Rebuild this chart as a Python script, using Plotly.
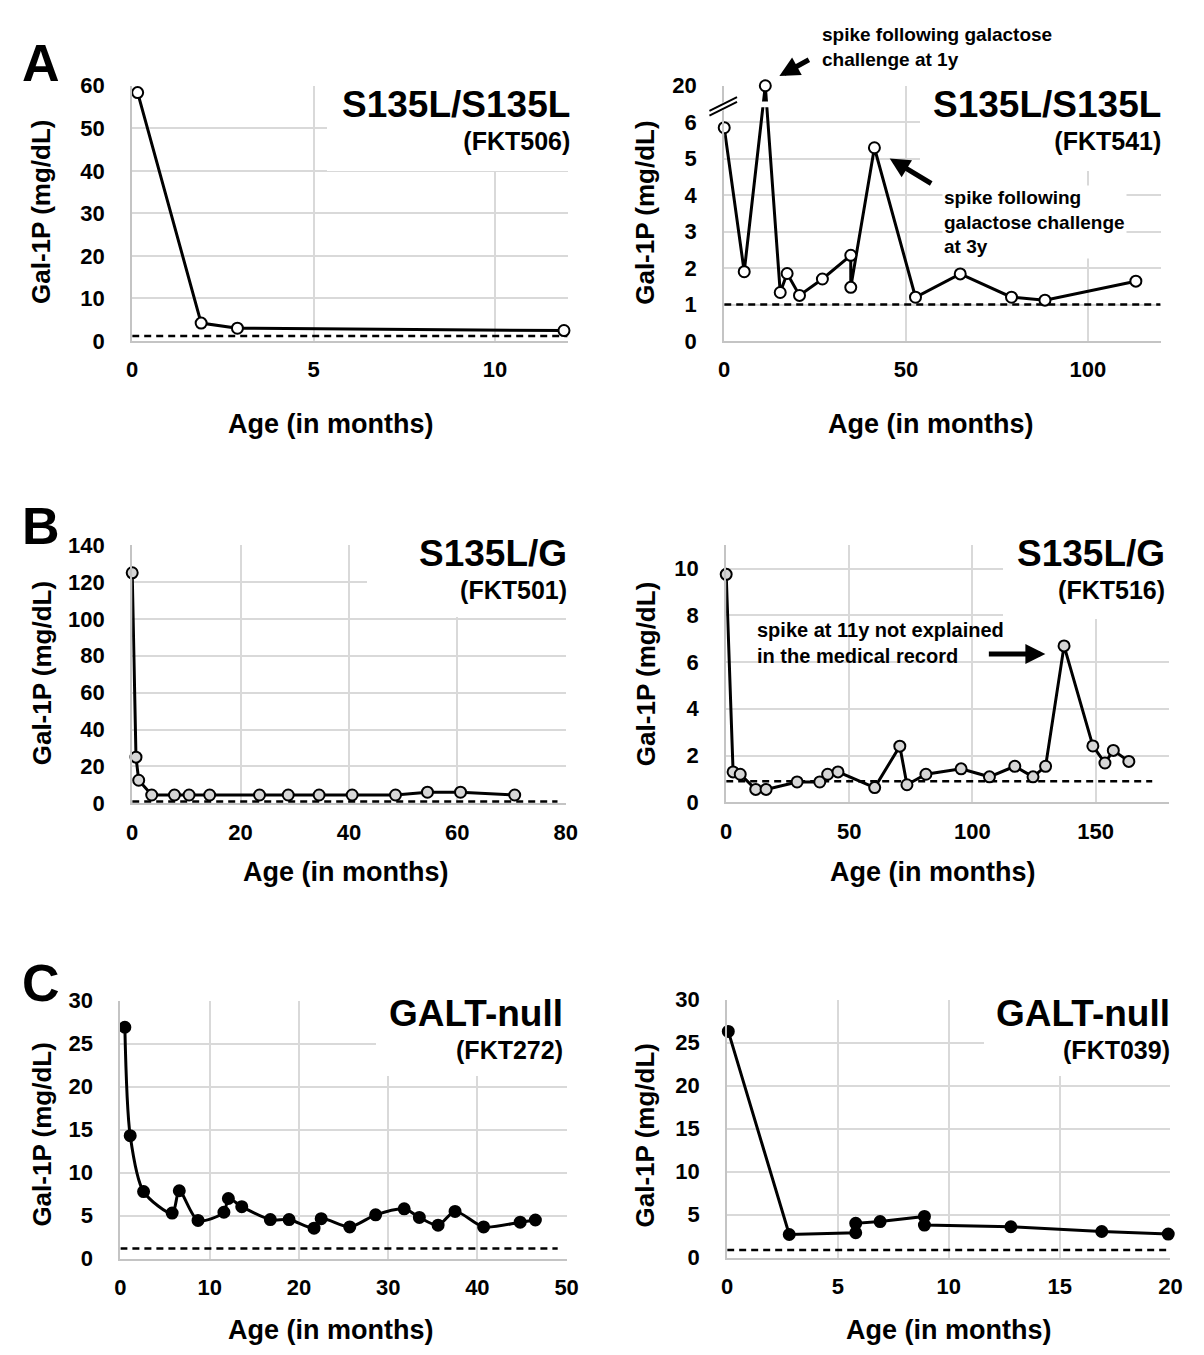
import plotly.graph_objects as go

W, H = 1204, 1355
FONT = "Liberation Sans, Arial, sans-serif"

# ---------------- data ----------------
# Panel A left: S135L/S135L (FKT506)
a1_age = [0.15, 1.9, 2.9, 11.9]
a1_gal = [58.4, 4.2, 3.0, 2.45]
a1_ref = [1.15, 1.15]
a1_ref_x = [0, 12]

# Panel A right: S135L/S135L (FKT541)  (20 shown on a broken axis)
a2_age = [0, 5.5, 11.3, 15.4, 17.3, 20.7, 27.0, 34.8, 34.8, 41.3, 52.6, 64.9, 79.0, 88.2, 113.2]
a2_gal = [5.85, 1.9, 20, 1.33, 1.85, 1.25, 1.7, 2.35, 1.47, 5.3, 1.2, 1.84, 1.2, 1.12, 1.64]
a2_ref = [1.0, 1.0]
a2_ref_x = [0, 120]
a2_yticks = [0, 1, 2, 3, 4, 5, 6, 20]

# Panel B left: S135L/G (FKT501)
b1_age = [0, 0.7, 1.2, 3.6, 7.8, 10.5, 14.3, 23.5, 28.8, 34.5, 40.6, 48.6, 54.5, 60.6, 70.6]
b1_gal = [125, 25, 12.5, 4.5, 4.5, 4.5, 4.5, 4.5, 4.5, 4.5, 4.5, 4.5, 6.0, 6.0, 4.5]
b1_ref = [1.0, 1.0]
b1_ref_x = [0, 78.5]

# Panel B right: S135L/G (FKT516)
b2_age = [0, 2.8, 5.7, 12.0, 16.2, 28.8, 38.0, 41.2, 45.4, 60.3, 70.5, 73.4, 81.1, 95.4,
          106.9, 117.2, 124.6, 129.7, 137.2, 148.9, 153.8, 157.2, 163.5]
b2_gal = [9.75, 1.3, 1.2, 0.55, 0.55, 0.87, 0.87, 1.2, 1.3, 0.63, 2.4, 0.75, 1.2, 1.43,
          1.09, 1.54, 1.09, 1.54, 6.69, 2.41, 1.68, 2.22, 1.75]
b2_ref = [0.9, 0.9]
b2_ref_x = [0, 173]

# Panel C left: GALT-null (FKT272)
c1_age = [0.5, 1.1, 2.6, 5.8, 6.6, 8.7, 11.6, 12.1, 13.6, 16.8, 18.9, 21.7, 22.5, 25.7,
          28.6, 31.8, 33.5, 35.6, 37.5, 40.7, 44.8, 46.5]
c1_gal = [26.9, 14.3, 7.8, 5.3, 7.9, 4.45, 5.4, 7.0, 6.05, 4.55, 4.55, 3.55, 4.65, 3.7,
          5.1, 5.8, 4.8, 3.9, 5.5, 3.7, 4.25, 4.5]
c1_ref = [1.2, 1.2]
c1_ref_x = [0, 49]

# Panel C right: GALT-null (FKT039)
c2_age = [0.05, 2.8, 5.8, 5.8, 6.9, 8.9, 8.9, 12.8, 16.9, 19.9]
c2_gal = [26.3, 2.7, 2.9, 4.0, 4.2, 4.8, 3.8, 3.6, 3.05, 2.75]
c2_ref = [0.9, 0.9]
c2_ref_x = [0, 20]


def brk(v):
    """broken y axis of panel A right: values above the break sit at position 7"""
    return v if v <= 6.5 else 7.0 + (v - 20.0) * 0.05


# ---------------- layout geometry (pixels) ----------------
panels = [
    dict(l=120, r=562, t=67, b=327, xr=[0, 12], xd=5, yr=[0, 60], yd=10),
    dict(l=721, r=1164, t=67, b=327, xr=[0, 120], xd=50, yr=[0, 7], yd=1),
    dict(l=120, r=560, t=535, b=798, xr=[0, 80], xd=20, yr=[0, 140], yd=20),
    dict(l=723, r=1173, t=535, b=797, xr=[0, 180], xd=50, yr=[0, 11], yd=2),
    dict(l=108, r=561, t=999, b=1262, xr=[0, 50], xd=10, yr=[0, 30], yd=5),
    dict(l=724, r=1174, t=998, b=1261, xr=[0, 20], xd=5, yr=[0, 30], yd=5),
]

fig = go.Figure()
GRID = "#d9d9d9"
LINEC = "#c4c4c4"
tickfont = dict(family=FONT, size=22, color="black", weight="bold")

for i, p in enumerate(panels, start=1):
    xs = "" if i == 1 else str(i)
    xa = dict(domain=[p["l"] / W, p["r"] / W], range=p["xr"], dtick=p["xd"], tick0=0,
              showgrid=True, gridcolor=GRID, gridwidth=2, zeroline=False,
              showline=True, linecolor=LINEC, linewidth=2, ticks="",
              tickfont=tickfont, ticklabelstandoff=8, anchor="y" + xs, fixedrange=True)
    ya = dict(domain=[1 - p["b"] / H, 1 - p["t"] / H], range=p["yr"],
              showgrid=True, gridcolor=GRID, gridwidth=2, zeroline=False,
              showline=True, linecolor=LINEC, linewidth=2, ticks="",
              tickfont=tickfont, ticklabelstandoff=21, anchor="x" + xs, fixedrange=True)
    if i == 2:
        ya.update(tickmode="array", tickvals=[brk(v) for v in a2_yticks],
                  ticktext=[str(v) for v in a2_yticks])
    elif i == 4:
        ya.update(tickmode="array", tickvals=[0, 2, 4, 6, 8, 10])
    else:
        ya.update(dtick=p["yd"], tick0=0)
    fig.layout["xaxis" + xs] = xa
    fig.layout["yaxis" + xs] = ya

series = [
    (a1_age, a1_gal, a1_ref_x, a1_ref, "white", "linear"),
    (a2_age, [brk(v) for v in a2_gal], a2_ref_x, a2_ref, "white", "linear"),
    (b1_age, b1_gal, b1_ref_x, b1_ref, "#d6d6d6", "linear"),
    (b2_age, b2_gal, b2_ref_x, b2_ref, "#d6d6d6", "linear"),
    (c1_age, c1_gal, c1_ref_x, c1_ref, "black", "spline"),
    (c2_age, c2_gal, c2_ref_x, c2_ref, "black", "linear"),
]

for i, (xv, yv, rx, ry, fill, shape) in enumerate(series, start=1):
    xs = "" if i == 1 else str(i)
    fig.add_trace(go.Scatter(x=rx, y=ry, mode="lines", xaxis="x" + xs, yaxis="y" + xs,
                             line=dict(color="black", width=2.5, dash="7px,5px"),
                             showlegend=False, hoverinfo="skip", cliponaxis=False))
    fig.add_trace(go.Scatter(x=xv, y=yv, mode="lines+markers", xaxis="x" + xs, yaxis="y" + xs,
                             line=dict(color="black", width=3, shape=shape, smoothing=0.8),
                             marker=dict(size=11, color=fill, line=dict(color="black", width=2)),
                             showlegend=False, cliponaxis=False))

shapes = []
# gap in the data line at the axis break (panel A right)
shapes.append(dict(type="rect", layer="above", xref="x2", yref="y2", x0=8.5, x1=14,
                   y0=6.41, y1=6.57, fillcolor="white", line=dict(width=0)))
# break marks "//" on the y axis of panel A right
shapes.append(dict(type="line", xref="paper", yref="paper",
                   x0=706 / W, x1=734 / W, y0=1 - 95 / H, y1=1 - 81 / H,
                   line=dict(color="white", width=7)))
for off in (-2.5, 2.5):
    shapes.append(dict(type="line", xref="paper", yref="paper",
                       x0=706 / W, x1=734 / W, y0=1 - (95 + off) / H, y1=1 - (81 + off) / H,
                       line=dict(color="black", width=2)))
fig.update_layout(shapes=shapes)

ann = []

# white boxes that hide the grid behind the panel titles
for x0, x1, y0, y1 in [(318, 590, 50, 152), (920, 1195, 50, 152), (358, 590, 520, 607),
                       (1004, 1195, 520, 609), (367, 590, 985, 1074), (985, 1195, 985, 1074)]:
    ann.append(dict(x=x0 / W, y=1 - y0 / H, xref="paper", yref="paper", text=" ",
                    showarrow=False, xanchor="left", yanchor="top", width=x1 - x0,
                    height=y1 - y0, bgcolor="white", borderpad=0, borderwidth=0))


def txt(x, y, s, size, xanchor="center", align="center", angle=0, bg=None):
    d = dict(x=x / W, y=1 - y / H, xref="paper", yref="paper", text=s, showarrow=False,
             xanchor=xanchor, yanchor="middle", align=align, textangle=angle,
             font=dict(family=FONT, size=size, color="black"))
    if bg:
        d["bgcolor"] = bg
    ann.append(d)


# panel letters
txt(27, 44, "<b>A</b>", 52)
txt(27, 516, "<b>B</b>", 52)
txt(27, 981, "<b>C</b>", 52)

# panel titles (title line + sample id line)
titles = [
    (566, 101, "S135L/S135L", "(FKT506)"),
    (1166, 101, "S135L/S135L", "(FKT541)"),
    (563, 559, "S135L/G", "(FKT501)"),
    (1171, 559, "S135L/G", "(FKT516)"),
    (559, 1027, "GALT-null", "(FKT272)"),
    (1176, 1027, "GALT-null", "(FKT039)"),
]
for x, y, t1, t2 in titles:
    txt(x, y, "<b><span style='font-size:37px'>" + t1 + "</span><br>" + t2 + "</b>", 25,
        xanchor="right", align="right")

# axis titles
for x, y in [(321, 412), (930, 412), (337, 868), (932, 868), (321, 1335), (949, 1335)]:
    txt(x, y, "<b>Age (in months)</b>", 27)
for x, y in [(28, 196), (641, 196), (28, 666), (641, 666), (28, 1136), (641, 1136)]:
    txt(x, y, "<b>Gal-1P (mg/dL)</b>", 26, angle=-90)

# notes
txt(818, 28, "<b>spike following galactose<br>challenge at 1y</b>", 19, xanchor="left", align="left")
txt(942, 206, "<b>spike following<br>galactose challenge<br>at 3y</b>", 19, xanchor="left",
    align="left", bg="white")
txt(752, 635, "<b>spike at 11y not explained<br>in the medical record</b>", 20, xanchor="left",
    align="left")

# arrows
for tx, ty, ax, ay in [(777, 57, 31, -17), (889, 141, 43, 26), (1047, 646, -58, 0)]:
    ann.append(dict(x=tx / W, y=1 - ty / H, xref="paper", yref="paper", text="",
                    showarrow=True, ax=ax, ay=ay, axref="pixel", ayref="pixel",
                    arrowhead=2, arrowsize=0.8, arrowwidth=5, arrowcolor="black"))

fig.update_layout(annotations=ann, width=W, height=H, margin=dict(l=0, r=0, t=0, b=0),
                  paper_bgcolor="white", plot_bgcolor="white", showlegend=False,
                  font=dict(family=FONT, color="black"))

fig.write_html("out.html")
